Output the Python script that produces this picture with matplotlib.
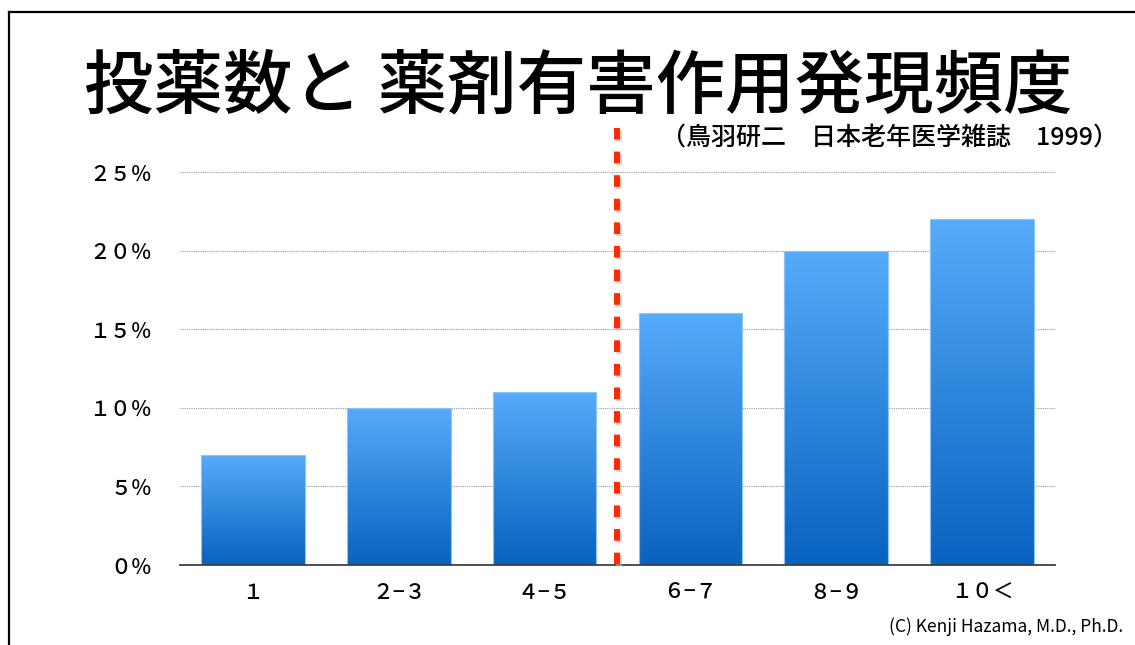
import numpy as np
import matplotlib
matplotlib.use("Agg")
import matplotlib.pyplot as plt
import matplotlib.transforms as mtransforms
from matplotlib.colors import LinearSegmentedColormap
from matplotlib.patches import Rectangle
from matplotlib.lines import Line2D

plt.rcParams['font.family'] = ['Noto Sans CJK JP', 'DejaVu Sans']

# データ
categories = ["１", "２−３", "４−５", "６−７", "８−９", "１０＜"]
rates = [7, 10, 11, 16, 20, 22]          # 薬剤有害作用発現頻度 (%)
yticks = [0, 5, 10, 15, 20, 25]
ytick_labels = ["０％", "５％", "１０％", "１５％", "２０％", "２５％"]
title = "投薬数と 薬剤有害作用発現頻度"
source = "（鳥羽研二　日本老年医学雑誌　1999）"
credit = "(C) Kenji Hazama, M.D., Ph.D."
split_at = 2.5   # 6剤以上の境目

W, H = 1135, 645
fig = plt.figure(figsize=(W / 100, H / 100), dpi=100)
ax = fig.add_axes([180 / W, 1 - 565 / H, 875 / W, 393 / H])

x = np.arange(len(categories))
width = 0.71
cmap = LinearSegmentedColormap.from_list("blue", ["#0862BF", "#56ABFB"])
grad = np.linspace(0, 1, 256).reshape(-1, 1)

for xi, v in zip(x, rates):
    r = Rectangle((xi - width / 2, 0), width, v, facecolor="none",
                  edgecolor="#8CC4F5", lw=0.8, zorder=3)
    ax.add_patch(r)
    im = ax.imshow(grad, cmap=cmap, origin="lower", aspect="auto",
                   extent=[xi - width / 2, xi + width / 2, 0, v], zorder=2)
    im.set_clip_path(r)

ax.set_xlim(-0.5, len(categories) - 0.5)
ax.set_ylim(0, 25)
ax.set_yticks(yticks)
ax.set_yticklabels(ytick_labels, fontsize=15, weight="medium")
ax.set_xticks(x)
ax.set_xticklabels(categories, fontsize=15, weight="medium")
ax.tick_params(length=0)
ax.tick_params(axis="y", pad=20)
ax.tick_params(axis="x", pad=12)
for s in ["top", "right", "left"]:
    ax.spines[s].set_visible(False)
ax.spines["bottom"].set_color("#404040")
ax.spines["bottom"].set_linewidth(1.3)
ax.spines["bottom"].set_zorder(4)
ax.grid(axis="y", ls=(0, (1, 1)), color="#999999", lw=0.8, zorder=1)
ax.set_axisbelow(True)

# 赤い点線（影つき）
dash = (0, (1.95, 2.0))
shadow_tr = mtransforms.offset_copy(ax.transData, fig=fig, x=2, y=-2, units="dots")
ax.plot([split_at, split_at], [27.8, 0], color="#BBBBBB", lw=4.3, ls=dash,
        dash_capstyle="butt", clip_on=False, zorder=4.5, alpha=0.6,
        transform=shadow_tr)
ax.plot([split_at, split_at], [27.8, 0], color="#FF2A00", lw=4.3, ls=dash,
        dash_capstyle="butt", clip_on=False, zorder=5)

fig.text(578 / W, 1 - 88 / H, title, fontsize=50, weight="medium",
         ha="center", va="center")
fig.text(1118 / W, 1 - 138 / H, source, fontsize=18, weight="medium",
         ha="right", va="center")
fig.text(1123 / W, 1 - 627 / H, credit, fontsize=12.5, ha="right", va="center")

# 枠線
fig.add_artist(Line2D([9 / W, 9 / W], [-0.05, 1 - 12 / H], color="black", lw=1.6))
fig.add_artist(Line2D([9 / W, 1.05], [1 - 12 / H, 1 - 12 / H], color="black", lw=1.6))

fig.savefig("out.png", dpi=100)
